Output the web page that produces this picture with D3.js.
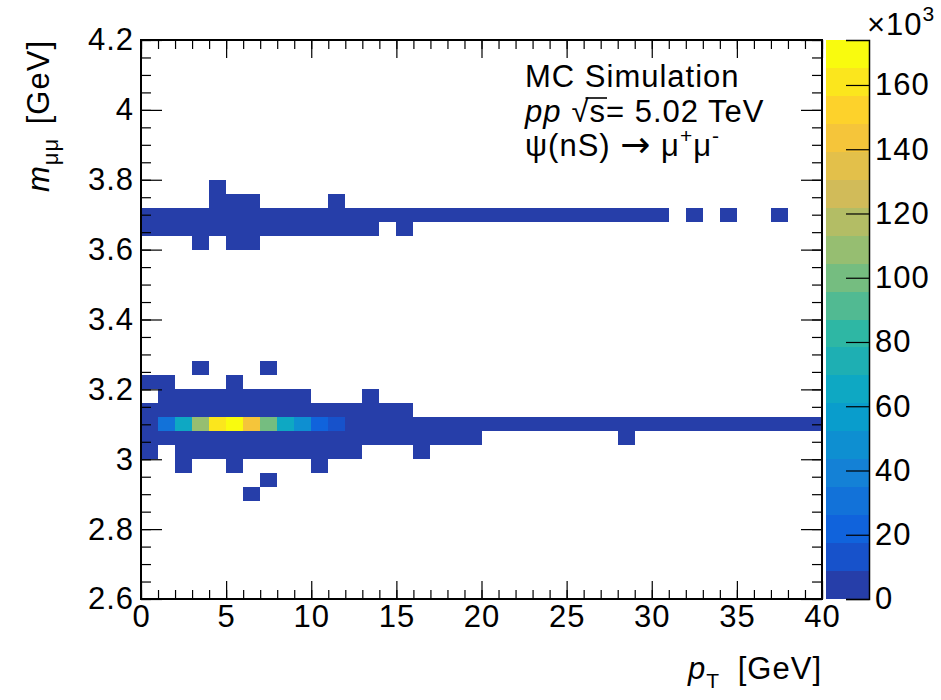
<!DOCTYPE html>
<html lang="en">
<head>
<meta charset="utf-8">
<title>psi(nS) MC: mass vs pT</title>
<script src="https://cdn.jsdelivr.net/npm/d3@7"></script>
<style>
  body { margin: 0; background: #fff; }
  svg text { font-family: "Liberation Sans", Arial, Helvetica, sans-serif; fill: #000; letter-spacing: 1px; }
</style>
</head>
<body>
<div id="chart"></div>
<script>
// binning of the 2D histogram
var ptRange = [0, 40], ptBinWidth = 1;
var massRange = [2.6, 4.2], massBinWidth = 0.04;

// tick labels
var ptTicks = [0, 5, 10, 15, 20, 25, 30, 35, 40];
var massTicks = [2.6, 2.8, 3, 3.2, 3.4, 3.6, 3.8, 4, 4.2];
var zTicks = [0, 20, 40, 60, 80, 100, 120, 140, 160];

// entries (x10^3) per pT bin, one array per mass row (name = lower mass edge)
// index 0 = 0-1 GeV, 1 = 1-2 GeV, ... ; 0 or missing = empty bin
var m288 = [0, 0, 0, 0, 0, 0, 0.02];
var m292 = [0, 0, 0, 0, 0, 0, 0, 0.03];
var m296 = [0, 0, 0.05, 0, 0, 0.06, 0, 0, 0, 0, 0.04];
var m300 = [0.3, 0, 0.6, 0.9, 1.1, 1.2, 1.1, 0.9, 0.7, 0.5, 0.35, 0.22, 0.12, 0, 0, 0, 0.02];
var m304 = [0.4, 1.5, 2.5, 3.3, 3.8, 3.9, 3.5, 2.9, 2.2, 1.6, 1.1, 0.8, 0.55, 0.38, 0.26, 0.18, 0.12, 0.08, 0.05, 0.03,
            0, 0, 0, 0, 0, 0, 0, 0, 0.01];
var m308 = [5, 32, 62, 108, 161, 174, 145, 100, 66, 46, 22, 14,
            8.2, 6.1, 4.5, 3.3, 2.4, 1.8, 1.3, 1.0, 0.75, 0.56,
            0.42, 0.32, 0.25, 0.19, 0.15, 0.12, 0.09, 0.07, 0.06, 0.05,
            0.04, 0.03, 0.025, 0.02, 0.016, 0.013, 0.011, 0.009];
var m312 = [0.3, 1.2, 2.0, 2.6, 3.0, 3.1, 2.8, 2.3, 1.8, 1.3, 0.9, 0.6, 0.4, 0.25, 0.15, 0.08];
var m316 = [0, 0.2, 0.5, 0.7, 0.8, 0.8, 0.7, 0.5, 0.35, 0.2, 0, 0, 0, 0.03];
var m320 = [0.05, 0.08, 0, 0, 0, 0.06];
var m324 = [0, 0, 0, 0.02, 0, 0, 0, 0.02];
var m360 = [0, 0, 0, 0.02, 0, 0.03, 0.02];
var m364 = [0.2, 0.6, 0.9, 1.1, 1.2, 1.1, 1.0, 0.8, 0.6, 0.45, 0.3, 0.2, 0.12, 0.07, 0, 0.03];
var m368 = [0.3, 0.9, 1.4, 1.7, 1.8, 1.7, 1.5, 1.2, 0.95, 0.72, 0.54, 0.4, 0.3, 0.22, 0.16, 0.12, 0.09, 0.07, 0.05, 0.04,
            0.03, 0.025, 0.02, 0.016, 0.013, 0.011, 0.009, 0.008, 0.007, 0.006, 0.005, 0, 0.004, 0, 0.003, 0, 0, 0.002];
var m372 = [0, 0, 0, 0, 0.05, 0.04, 0.03, 0, 0, 0, 0, 0.01];
var m376 = [0, 0, 0, 0, 0.02];

var rows = [
  {m: 2.88, n: m288}, {m: 2.92, n: m292}, {m: 2.96, n: m296}, {m: 3.00, n: m300},
  {m: 3.04, n: m304}, {m: 3.08, n: m308}, {m: 3.12, n: m312}, {m: 3.16, n: m316},
  {m: 3.20, n: m320}, {m: 3.24, n: m324},
  {m: 3.60, n: m360}, {m: 3.64, n: m364}, {m: 3.68, n: m368}, {m: 3.72, n: m372}, {m: 3.76, n: m376}
];

// flatten to cells
var cells = [];
rows.forEach(function(r) {
  r.n.forEach(function(v, i) {
    if (v > 0) cells.push({pt: ptRange[0] + i * ptBinWidth, m: r.m, v: v});
  });
});

var W = 941, H = 700;
var frame = {left: 141, right: 822, top: 40, bottom: 599};
var pal = {left: 826, right: 869};
var fs = 31;

var x = d3.scaleLinear().domain(ptRange).range([frame.left, frame.right]);
var y = d3.scaleLinear().domain(massRange).range([frame.bottom, frame.top]);

// ROOT kBird palette, 20 contour levels
var birdStops = [0, 0.125, 0.25, 0.375, 0.5, 0.625, 0.75, 0.875, 1];
var birdColors = ["rgb(53,42,135)", "rgb(15,92,221)", "rgb(20,129,214)", "rgb(6,164,202)",
                  "rgb(46,183,164)", "rgb(135,191,119)", "rgb(209,187,89)", "rgb(254,200,50)", "rgb(249,251,14)"];
var bird = d3.scaleLinear().domain(birdStops).range(birdColors).interpolate(d3.interpolateRgb);
var nCont = 20;
var zMax = d3.max(cells, function(d) { return d.v; });
var dz = zMax / nCont;
function levelColor(v) {
  var k = Math.min(nCont - 1, Math.floor(v / dz));
  return bird(Math.min(1, (k + 0.99) / nCont));
}
var z = d3.scaleLinear().domain([0, zMax]).range([frame.bottom, frame.top]);

var svg = d3.select("#chart").append("svg")
    .attr("width", W).attr("height", H);

// cells
svg.append("g").selectAll("rect")
    .data(cells)
  .enter().append("rect")
    .attr("x", function(d) { return x(d.pt); })
    .attr("width", function(d) { return x(d.pt + ptBinWidth) - x(d.pt); })
    .attr("y", function(d) { return y(d.m + massBinWidth); })
    .attr("height", function(d) { return y(d.m) - y(d.m + massBinWidth); })
    .attr("fill", function(d) { return levelColor(d.v); })
    .attr("shape-rendering", "crispEdges");

// axes: ticks drawn inward on all four sides
function axisStyle(g) {
  g.select(".domain").remove();
  g.selectAll("line").attr("stroke", "#000").attr("stroke-width", 1.2);
  g.selectAll("text").attr("font-size", fs);
}
var ptMinor = d3.range(ptRange[0], ptRange[1] + ptBinWidth, ptBinWidth);
var massMinor = d3.range(0, 33).map(function(i) { return 2.6 + i * 0.05; });

svg.append("g").attr("transform", "translate(0," + frame.bottom + ")")
    .call(d3.axisBottom(x).tickValues(ptMinor).tickSize(-9).tickFormat(""))
    .call(axisStyle);
svg.append("g").attr("transform", "translate(0," + frame.bottom + ")")
    .call(d3.axisBottom(x).tickValues(ptTicks).tickSize(-18).tickPadding(6).tickFormat(d3.format("d")))
    .call(axisStyle);
svg.append("g").attr("transform", "translate(0," + frame.top + ")")
    .call(d3.axisTop(x).tickValues(ptMinor).tickSize(-9).tickFormat(""))
    .call(axisStyle);
svg.append("g").attr("transform", "translate(0," + frame.top + ")")
    .call(d3.axisTop(x).tickValues(ptTicks).tickSize(-18).tickFormat(""))
    .call(axisStyle);

svg.append("g").attr("transform", "translate(" + frame.left + ",0)")
    .call(d3.axisLeft(y).tickValues(massMinor).tickSize(-10).tickFormat(""))
    .call(axisStyle);
svg.append("g").attr("transform", "translate(" + frame.left + ",0)")
    .call(d3.axisLeft(y).tickValues(massTicks).tickSize(-21).tickPadding(7).tickFormat(d3.format("~g")))
    .call(axisStyle);
svg.append("g").attr("transform", "translate(" + frame.right + ",0)")
    .call(d3.axisRight(y).tickValues(massMinor).tickSize(-10).tickFormat(""))
    .call(axisStyle);
svg.append("g").attr("transform", "translate(" + frame.right + ",0)")
    .call(d3.axisRight(y).tickValues(massTicks).tickSize(-21).tickFormat(""))
    .call(axisStyle);

svg.append("rect")
    .attr("x", frame.left).attr("y", frame.top)
    .attr("width", frame.right - frame.left).attr("height", frame.bottom - frame.top)
    .attr("fill", "none").attr("stroke", "#000").attr("stroke-width", 2);

// colour palette
var levels = d3.range(nCont);
svg.append("g").selectAll("rect")
    .data(levels)
  .enter().append("rect")
    .attr("x", pal.left)
    .attr("width", pal.right - pal.left)
    .attr("y", function(k) { return z((k + 1) * dz); })
    .attr("height", function(k) { return z(k * dz) - z((k + 1) * dz); })
    .attr("fill", function(k) { return levelColor((k + 0.5) * dz); })
    .attr("shape-rendering", "crispEdges");

svg.append("g").attr("transform", "translate(" + pal.right + ",0)")
    .call(d3.axisRight(z).tickValues(zTicks).tickSize(-23).tickPadding(6))
    .call(function(g) {
      g.select(".domain").attr("stroke", "#000").attr("stroke-width", 1.5);
      g.selectAll("line").attr("stroke", "#000").attr("stroke-width", 1.2);
      g.selectAll("text").attr("font-size", fs);
    });

var expo = svg.append("text").attr("x", 867).attr("y", 35).attr("font-size", fs);
expo.append("tspan").text("\u00d710");
expo.append("tspan").attr("font-size", 21).attr("dy", -14).text("3");

// axis titles
var xt = svg.append("text").attr("x", frame.right).attr("y", 679)
    .attr("text-anchor", "end").attr("font-size", fs);
xt.append("tspan").attr("font-style", "italic").text("p");
xt.append("tspan").attr("font-size", 21).attr("dy", 9).text("T");
xt.append("tspan").attr("dy", -9).attr("dx", 8).text(" [GeV]");

var yt = svg.append("text").attr("transform", "translate(49," + frame.top + ") rotate(-90)")
    .attr("text-anchor", "end").attr("font-size", fs);
yt.append("tspan").attr("font-style", "italic").text("m");
yt.append("tspan").attr("font-size", 22).attr("dy", 9).text("\u03bc\u03bc");
yt.append("tspan").attr("dy", -9).attr("dx", 4).text(" [GeV]");

// label
var lx = 525;
svg.append("text").attr("x", lx).attr("y", 87).attr("font-size", fs).text("MC Simulation");
var l2 = svg.append("text").attr("x", lx).attr("y", 121.5).attr("font-size", fs);
l2.append("tspan").attr("font-style", "italic").text("pp");
var root = l2.append("tspan").attr("dx", 10).text("\u221a");
var sArg = l2.append("tspan").text("s");
l2.append("tspan").text("= 5.02 TeV");
// bar of the square root over "s"
var rb = root.node().getBBox(), sb = sArg.node().getBBox();
svg.append("line")
    .attr("x1", rb.x + rb.width - 4).attr("x2", sb.x + sb.width + 1)
    .attr("y1", 98).attr("y2", 98)
    .attr("stroke", "#000").attr("stroke-width", 1.6);

var l3 = svg.append("text").attr("x", lx).attr("y", 156).attr("font-size", fs);
l3.append("tspan").text("\u03c8(nS) ");
l3.append("tspan").attr("font-family", "DejaVu Sans").attr("font-size", 36).attr("dy", 1).text("\u2192");
l3.append("tspan").attr("dy", -1).text(" \u03bc");
l3.append("tspan").attr("font-size", 21).attr("dy", -13).text("+");
l3.append("tspan").attr("font-size", fs).attr("dy", 13).text("\u03bc");
l3.append("tspan").attr("font-size", 21).attr("dy", -13).text("-");
</script>
</body>
</html>
